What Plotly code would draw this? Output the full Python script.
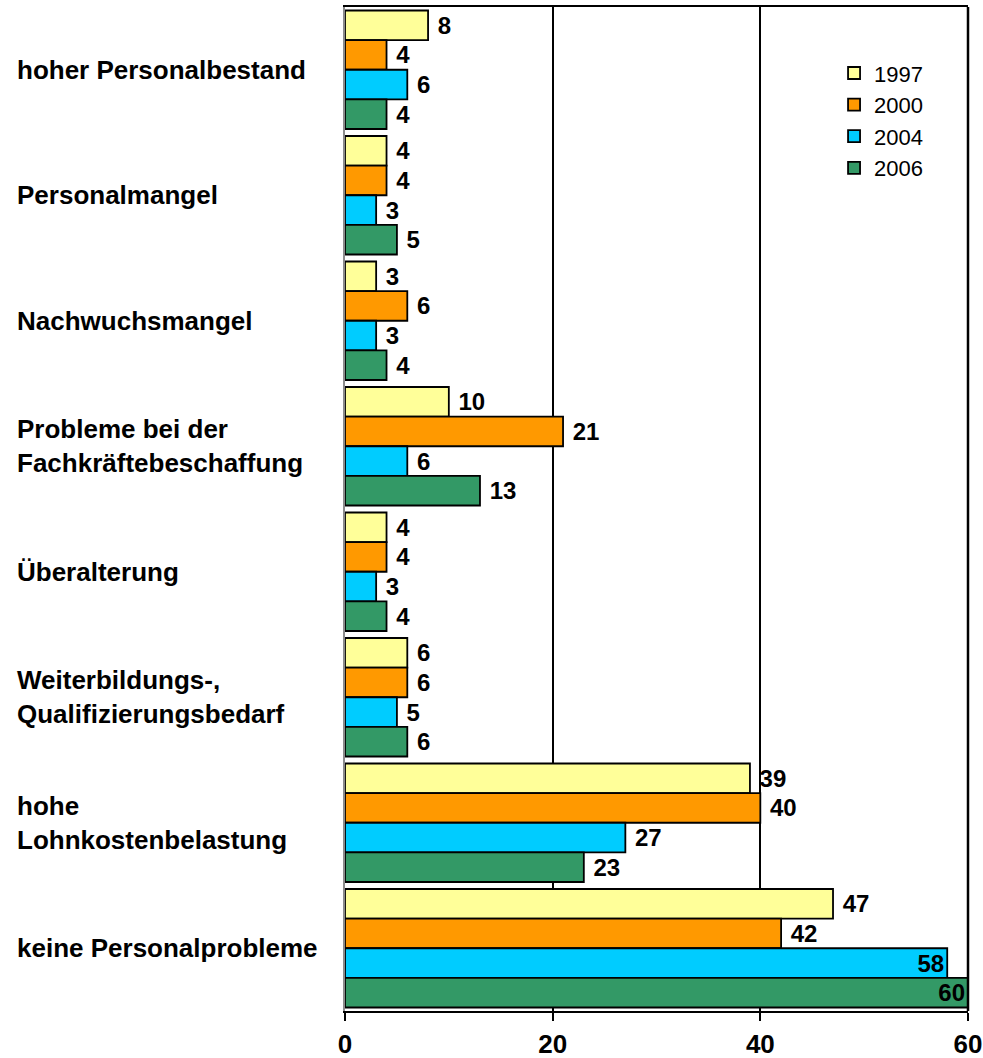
import plotly.graph_objects as go

categories = [
    "hoher Personalbestand",
    "Personalmangel",
    "Nachwuchsmangel",
    "Probleme bei der<br>Fachkräftebeschaffung",
    "Überalterung",
    "Weiterbildungs-,<br>Qualifizierungsbedarf",
    "hohe<br>Lohnkostenbelastung",
    "keine Personalprobleme",
]
years = ["1997", "2000", "2004", "2006"]
v1997 = [8, 4, 3, 10, 4, 6, 39, 47]
v2000 = [4, 4, 6, 21, 4, 6, 40, 42]
v2004 = [6, 3, 3, 6, 3, 5, 27, 58]
v2006 = [4, 5, 4, 13, 4, 6, 23, 60]
series = [v1997, v2000, v2004, v2006]
colors = ["#FFFF99", "#FF9900", "#00CCFF", "#339966"]
xticks = [0, 20, 40, 60]

FONT = "Liberation Sans, Arial, sans-serif"
VFONT = dict(family=FONT, size=24, color="black", weight="bold")

fig = go.Figure()
for name, vals, col in zip(years, series, colors):
    fig.add_trace(go.Bar(
        y=categories, x=vals, name=name, orientation="h",
        marker=dict(color=col, line=dict(color="black", width=1.8)),
        text=vals,
        texttemplate=" %{x}",
        textposition=["inside" if v >= 55 else "outside" for v in vals],
        insidetextanchor="end",
        constraintext="none",
        textfont=VFONT, insidetextfont=VFONT, outsidetextfont=VFONT,
        cliponaxis=False,
        hoverinfo="x+name",
    ))

for cat in categories:
    fig.add_annotation(
        x=-0.530, xref="paper", y=cat, yref="y",
        text=cat, showarrow=False, xanchor="left", yanchor="middle",
        align="left",
        font=dict(family=FONT, size=26, color="black", weight="bold"),
    )

fig.add_shape(type="line", xref="paper", yref="paper", x0=1, x1=1, y0=0, y1=1,
              line=dict(color="black", width=2.5))

fig.update_layout(
    width=983, height=1058,
    margin=dict(l=345, r=15, t=7, b=47),
    paper_bgcolor="white", plot_bgcolor="white",
    barmode="group", bargap=0.056, bargroupgap=0,
    showlegend=True,
    legend=dict(
        x=0.785, y=0.955, xanchor="left", yanchor="top",
        font=dict(family=FONT, size=22, color="black"),
        bgcolor="rgba(0,0,0,0)", traceorder="normal",
        itemwidth=30, tracegroupgap=0,
    ),
    xaxis=dict(
        range=[0, 60], tickvals=xticks, ticktext=[str(t) for t in xticks],
        showgrid=True, gridcolor="black", gridwidth=1.5,
        zeroline=False, automargin=False,
        showline=True, linecolor="black", linewidth=2, mirror=True,
        ticks="outside", ticklen=8, tickwidth=2, tickcolor="black",
        ticklabelstandoff=1, ticklabeloverflow="allow",
        tickfont=dict(family=FONT, size=26, color="black", weight="bold"),
        fixedrange=True,
    ),
    yaxis=dict(
        autorange="reversed", showticklabels=False, ticks="",
        showgrid=False, zeroline=False, automargin=False,
        showline=True, linecolor="#8c8c8c", linewidth=2,
        fixedrange=True,
    ),
)

fig.write_html(
    "out.html",
    config={"displayModeBar": False},
    post_script="document.body.style.margin='0';document.body.style.overflow='hidden';",
)
